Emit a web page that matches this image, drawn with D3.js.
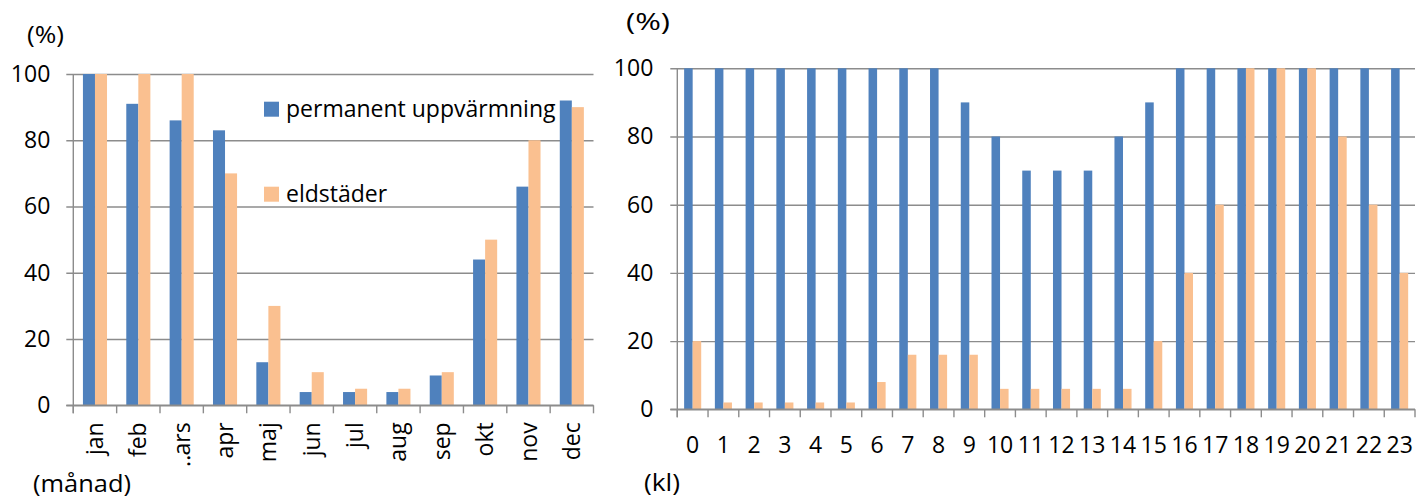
<!DOCTYPE html>
<html>
<head>
<meta charset="utf-8">
<script src="https://cdn.jsdelivr.net/npm/d3@7"></script>
<style>
  body { margin: 0; background: #fff; }
  text { font-family: "Open Sans", sans-serif; fill: #000; }
</style>
</head>
<body>
<div id="chart"></div>
<script>

// data
var months = ["jan", "feb", "‥ars", "apr", "maj", "jun", "jul", "aug", "sep", "okt", "nov", "dec"];
var monthPermanent = [100, 91, 86, 83, 13, 4, 4, 4, 9, 44, 66, 92];
var monthEldstader = [100, 100, 100, 70, 30, 10, 5, 5, 10, 50, 80, 90];

var hours = ["0","1","2","3","4","5","6","7","8","9","10","11","12","13","14","15","16","17","18","19","20","21","22","23"];
var hourPermanent = [100, 100, 100, 100, 100, 100, 100, 100, 100, 90, 80, 70, 70, 70, 80, 90, 100, 100, 100, 100, 100, 100, 100, 100];
var hourEldstader = [20, 2, 2, 2, 2, 2, 8, 16, 16, 16, 6, 6, 6, 6, 6, 20, 40, 60, 100, 100, 100, 80, 60, 40];

var series = ["permanent uppvärmning", "eldstäder"];
var yTicks = [0, 20, 40, 60, 80, 100];

var width = 1416,
    height = 499;

var color = d3.scaleOrdinal().domain(series).range(["#4f81bd", "#fac090"]);
var gridColor = "#8c8c8c";

var svg = d3.select("#chart").append("svg")
    .attr("width", width)
    .attr("height", height);

function drawChart(opt) {
  var g = svg.append("g");

  var x0 = d3.scaleBand()
      .domain(opt.cats)
      .range([opt.left, opt.right]);

  var x1 = d3.scaleBand()
      .domain(series)
      .range([0, x0.bandwidth()])
      .paddingOuter(0.8);

  var y = d3.scaleLinear()
      .domain([0, 100])
      .range([opt.bottom, opt.top]);

  // gridlines + y labels
  var yAxis = g.append("g")
      .attr("transform", "translate(" + (opt.left - 7) + ",0)")
      .call(d3.axisLeft(y)
        .tickValues(yTicks)
        .tickSize(-(opt.right - opt.left + 7))
        .tickPadding(opt.labelPad));
  yAxis.select(".domain").remove();
  yAxis.selectAll("line").attr("stroke", gridColor).attr("stroke-width", 1.4);
  yAxis.selectAll("text")
      .attr("font-size", "23px")
      .attr("font-family", "'Open Sans', sans-serif")
      .attr("fill", "#000");

  // bars
  var rows = opt.cats.map(function(c, i) {
    return { cat: c, values: [opt.a[i], opt.b[i]] };
  });

  var grp = g.selectAll(".grp")
    .data(rows)
    .enter().append("g")
      .attr("transform", function(d) { return "translate(" + x0(d.cat) + ",0)"; });

  grp.selectAll("rect")
    .data(function(d) { return d.values.map(function(v, j) { return { key: series[j], value: v }; }); })
    .enter().append("rect")
      .attr("x", function(d) { return x1(d.key); })
      .attr("y", function(d) { return y(d.value); })
      .attr("width", x1.bandwidth())
      .attr("height", function(d) { return y(0) - y(d.value); })
      .attr("fill", function(d) { return color(d.key); });

  // y axis line
  g.append("line")
      .attr("x1", opt.left).attr("x2", opt.left)
      .attr("y1", y(100)).attr("y2", y(0) + 8)
      .attr("stroke", gridColor).attr("stroke-width", 1.4);

  // zero line on top of bars
  g.append("line")
      .attr("x1", opt.left - 7).attr("x2", opt.right)
      .attr("y1", y(0)).attr("y2", y(0))
      .attr("stroke", gridColor).attr("stroke-width", 1.4);

  // category boundary ticks
  var bounds = opt.cats.map(function(c) { return x0(c); }).concat([opt.right]);
  g.selectAll(".xtick")
    .data(bounds)
    .enter().append("line")
      .attr("x1", function(d) { return d; }).attr("x2", function(d) { return d; })
      .attr("y1", y(0)).attr("y2", y(0) + 8)
      .attr("stroke", gridColor).attr("stroke-width", 1.4);

  // category labels
  var xAxis = g.append("g")
      .attr("transform", "translate(0," + y(0) + ")")
      .call(d3.axisBottom(x0).tickSize(0).tickPadding(0));
  xAxis.select(".domain").remove();
  xAxis.selectAll("text")
      .attr("font-size", "23px")
      .attr("font-family", "'Open Sans', sans-serif")
      .attr("fill", "#000");

  if (opt.rotate) {
    xAxis.selectAll("text")
        .attr("y", 0)
        .attr("dy", "0.35em")
        .attr("text-anchor", "end")
        .attr("transform", "translate(0,17) rotate(-90)");
  } else {
    xAxis.selectAll("text")
        .attr("y", 0)
        .attr("dy", 0)
        .attr("transform", "translate(0,44)");
  }

  // unit labels
  g.append("text")
      .attr("x", opt.pctX).attr("y", opt.pctY)
      .attr("font-size", "24px")
      .attr("textLength", opt.pctW)
      .attr("lengthAdjust", "spacingAndGlyphs")
      .text("(%)");

  g.append("text")
      .attr("x", opt.unitX).attr("y", opt.unitY)
      .attr("font-size", "24px")
      .attr("textLength", opt.unitW)
      .attr("lengthAdjust", "spacingAndGlyphs")
      .text(opt.unit);
}

drawChart({
  cats: months, a: monthPermanent, b: monthEldstader,
  left: 73.3, right: 593.5, top: 74, bottom: 405.3,
  labelPad: 16, rotate: true,
  pctX: 27, pctY: 43, pctW: 37,
  unit: "(månad)", unitX: 33, unitY: 492, unitW: 98
});

drawChart({
  cats: hours, a: hourPermanent, b: hourEldstader,
  left: 677.3, right: 1415, top: 68.3, bottom: 409.3,
  labelPad: 17, rotate: false,
  pctX: 626, pctY: 30, pctW: 44,
  unit: "(kl)", unitX: 644, unitY: 491, unitW: 36
});

// legend (left chart)
var legendY = [116.7, 201.7];
var legend = svg.append("g")
  .selectAll("g")
  .data(series)
  .enter().append("g")
    .attr("transform", function(d, i) { return "translate(264," + legendY[i] + ")"; });

legend.append("rect")
    .attr("x", 0).attr("y", -15)
    .attr("width", 15).attr("height", 15)
    .attr("fill", function(d) { return color(d); });

legend.append("text")
    .attr("x", 22).attr("y", 0)
    .attr("font-size", "23px")
    .text(function(d) { return d; });

</script>
</body>
</html>
